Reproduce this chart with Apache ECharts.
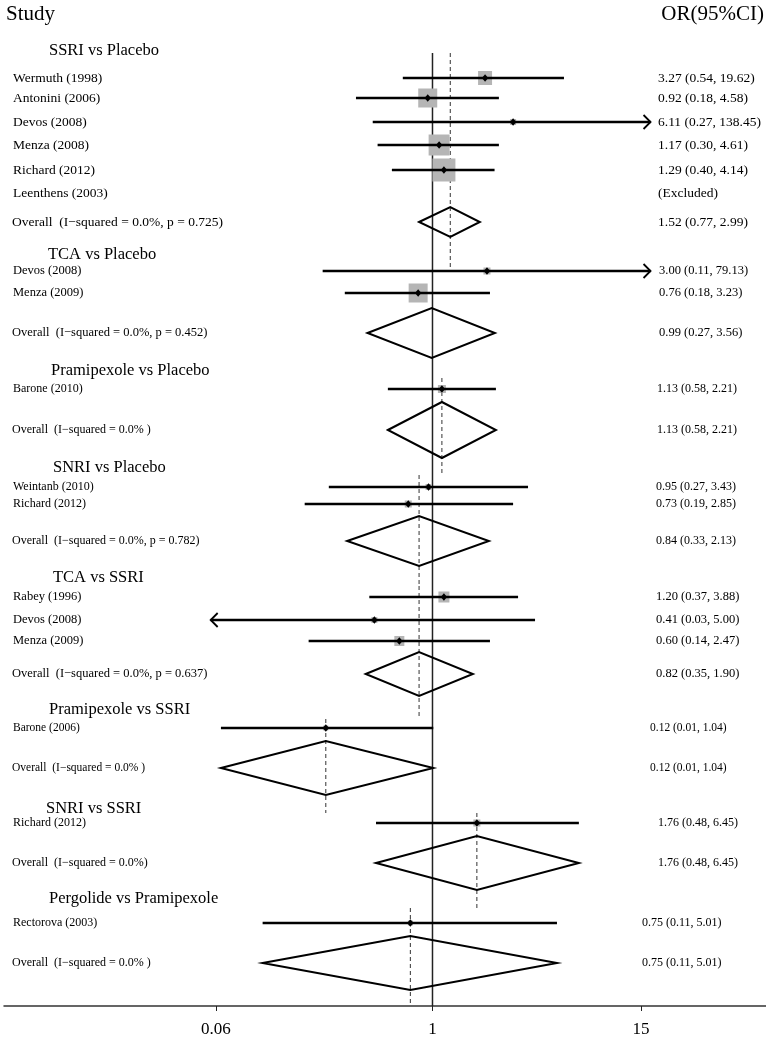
<!DOCTYPE html>
<html>
<head>
<meta charset="utf-8">
<title>Forest plot</title>
<script src="https://cdn.jsdelivr.net/npm/echarts@6/dist/echarts.min.js"></script>
<style>
html, body { margin: 0; padding: 0; background: #fff; }
#main { width: 766px; height: 1037px; }
</style>
</head>
<body>
<div id="main"></div>
<script>
// ---- data ----
var groupTitles = ['SSRI vs Placebo', 'TCA vs Placebo', 'Pramipexole vs Placebo', 'SNRI vs Placebo',
	'TCA vs SSRI', 'Pramipexole vs SSRI', 'SNRI vs SSRI', 'Pergolide vs Pramipexole'];

var studyGroup = [0, 0, 0, 0, 0, 0, 1, 1, 2, 3, 3, 4, 4, 4, 5, 6, 7];
var studyNames = ['Wermuth (1998)', 'Antonini (2006)', 'Devos (2008)', 'Menza (2008)', 'Richard (2012)', 'Leenthens (2003)',
	'Devos (2008)', 'Menza (2009)',
	'Barone (2010)',
	'Weintanb (2010)', 'Richard (2012)',
	'Rabey (1996)', 'Devos (2008)', 'Menza (2009)',
	'Barone (2006)',
	'Richard (2012)',
	'Rectorova (2003)'];
// positions of the marks as drawn on the axis
var studyOR = [1.98, 0.94, 2.85, 1.09, 1.16, null, 2.03, 0.83, 1.13, 0.95, 0.73, 1.16, 0.47, 0.65, 0.25, 1.78, 0.75];
var studyLo = [0.68, 0.37, 0.46, 0.49, 0.59, null, 0.24, 0.32, 0.56, 0.26, 0.19, 0.44, 0.03, 0.20, 0.064, 0.48, 0.11];
var studyHi = [5.52, 2.37, 138.45, 2.37, 2.24, null, 79.13, 2.11, 2.28, 3.46, 2.85, 3.04, 3.79, 2.11, 1.01, 6.70, 5.04];
var studyWeight = [14, 19, 6, 21, 23, 0, 7, 19, 8, 6, 7, 11, 6, 10, 5, 7, 5];
var studyText = ['3.27 (0.54, 19.62)', '0.92 (0.18, 4.58)', '6.11 (0.27, 138.45)', '1.17 (0.30, 4.61)', '1.29 (0.40, 4.14)', '(Excluded)',
	'3.00 (0.11, 79.13)', '0.76 (0.18, 3.23)',
	'1.13 (0.58, 2.21)',
	'0.95 (0.27, 3.43)', '0.73 (0.19, 2.85)',
	'1.20 (0.37, 3.88)', '0.41 (0.03, 5.00)', '0.60 (0.14, 2.47)',
	'0.12 (0.01, 1.04)',
	'1.76 (0.48, 6.45)',
	'0.75 (0.11, 5.01)'];

var overallLabel = ['Overall  (I\u2212squared = 0.0%, p = 0.725)', 'Overall  (I\u2212squared = 0.0%, p = 0.452)',
	'Overall  (I\u2212squared = 0.0% )', 'Overall  (I\u2212squared = 0.0%, p = 0.782)',
	'Overall  (I\u2212squared = 0.0%, p = 0.637)', 'Overall  (I\u2212squared = 0.0% )',
	'Overall  (I\u2212squared = 0.0%)', 'Overall  (I\u2212squared = 0.0% )'];
var overallOR = [1.26, 0.99, 1.13, 0.84, 0.84, 0.25, 1.78, 0.75];
var overallLo = [0.84, 0.43, 0.56, 0.33, 0.42, 0.064, 0.48, 0.11];
var overallHi = [1.85, 2.25, 2.28, 2.08, 1.69, 1.01, 6.70, 5.04];
var overallText = ['1.52 (0.77, 2.99)', '0.99 (0.27, 3.56)', '1.13 (0.58, 2.21)', '0.84 (0.33, 2.13)',
	'0.82 (0.35, 1.90)', '0.12 (0.01, 1.04)', '1.76 (0.48, 6.45)', '0.75 (0.11, 5.01)'];

var tickValues = [0.06, 1, 15];
var clipRange = [0.056, 17.0];

// ---- layout (row heights in px from the top) ----
var titleY = [51, 255, 371, 468, 578, 710, 809, 899];
var titleX = [49, 48, 51, 53, 53, 49, 46, 49];
var studyY = [78, 98, 122, 145, 170, 193, 271, 293, 389, 487, 504, 597, 620, 641, 728, 823, 923];
var overallY = [222, 333, 430, 541, 674, 768, 863, 963];
var diamondHalf = [15, 25, 28, 25, 22, 27, 27, 27];
var labelSize = [13.5, 12.5, 12, 12, 12.5, 11.5, 12, 12];
var valueX = [658, 659, 657, 656, 656, 650, 658, 642];
var dashTop = [53, null, 378, 475, 586, 719, 813, 908];
var dashBottom = [267, null, 475, 586, 719, 813, 908, 1006];

var serif = '"Liberation Serif", "Times New Roman", serif';
function log10(v) { return Math.log(v) / Math.LN10; }

function textEl(str, x, y, size, align) {
	return {
		type: 'text', x: x, y: y,
		style: { text: str, fill: '#000', font: size + 'px ' + serif, align: align || 'left', verticalAlign: 'middle' }
	};
}

//参考线：实线 OR=1 与各组合并效应虚线
function renderRefs(params, api) {
	var kids = [];
	var a = api.coord([0, 53]), b = api.coord([0, 1006]);
	kids.push({ type: 'line', shape: { x1: a[0], y1: a[1], x2: b[0], y2: b[1] }, style: { stroke: '#222', lineWidth: 1.5 } });
	for (var g = 0; g < overallOR.length; g++) {
		if (dashTop[g] == null) continue;
		var t = api.coord([log10(overallOR[g]), dashTop[g]]);
		var d = api.coord([log10(overallOR[g]), dashBottom[g]]);
		kids.push({ type: 'line', shape: { x1: t[0], y1: t[1], x2: d[0], y2: d[1] },
			style: { stroke: '#333', lineWidth: 1, lineDash: [4, 3] } });
	}
	// header and subgroup titles
	kids.push(textEl('Study', 6, 14, 21));
	kids.push(textEl('OR(95%CI)', 764, 14, 21, 'right'));
	for (var k = 0; k < groupTitles.length; k++) {
		kids.push(textEl(groupTitles[k], titleX[k], api.coord([0, titleY[k]])[1], 16.5));
	}
	return { type: 'group', children: kids };
}

function renderStudy(params, api) {
	var i = params.dataIndex;
	var g = studyGroup[i];
	var yy = api.coord([0, studyY[i]])[1];
	var fs = labelSize[g];
	var kids = [textEl(studyNames[i], 13, yy, fs), textEl(studyText[i], valueX[g], yy, fs)];
	if (studyOR[i] != null) {
		var lo = Math.max(studyLo[i], clipRange[0]);
		var hi = Math.min(studyHi[i], clipRange[1]);
		var p = api.coord([log10(studyOR[i]), studyY[i]]);
		var pl = api.coord([log10(lo), studyY[i]]);
		var ph = api.coord([log10(hi), studyY[i]]);
		var s = studyWeight[i];
		kids.push({ type: 'rect', shape: { x: p[0] - s / 2, y: p[1] - s / 2, width: s, height: s }, style: { fill: '#b5b5b5' } });
		kids.push({ type: 'line', shape: { x1: pl[0], y1: p[1], x2: ph[0], y2: p[1] }, style: { stroke: '#000', lineWidth: 2.3 } });
		if (studyHi[i] > clipRange[1]) {
			kids.push({ type: 'polyline', shape: { points: [[ph[0] - 7, p[1] - 7], [ph[0], p[1]], [ph[0] - 7, p[1] + 7]] },
				style: { stroke: '#000', lineWidth: 1.8, fill: null } });
		}
		if (studyLo[i] < clipRange[0]) {
			kids.push({ type: 'polyline', shape: { points: [[pl[0] + 7, p[1] - 7], [pl[0], p[1]], [pl[0] + 7, p[1] + 7]] },
				style: { stroke: '#000', lineWidth: 1.8, fill: null } });
		}
		kids.push({ type: 'polygon', shape: { points: [[p[0] - 3.2, p[1]], [p[0], p[1] - 3.8], [p[0] + 3.2, p[1]], [p[0], p[1] + 3.8]] },
			style: { fill: '#000' } });
	}
	return { type: 'group', children: kids };
}

function renderOverall(params, api) {
	var g = params.dataIndex;
	var y = overallY[g];
	var c = api.coord([log10(overallOR[g]), y]);
	var l = api.coord([log10(overallLo[g]), y]);
	var r = api.coord([log10(overallHi[g]), y]);
	var h = diamondHalf[g];
	return {
		type: 'group',
		children: [
			textEl(overallLabel[g], 12, c[1], labelSize[g]),
			textEl(overallText[g], valueX[g], c[1], labelSize[g]),
			{ type: 'polygon', shape: { points: [[l[0], c[1]], [c[0], c[1] - h], [r[0], c[1]], [c[0], c[1] + h]] },
				style: { stroke: '#000', lineWidth: 2, fill: null } }
		]
	};
}

var chart = echarts.init(document.getElementById('main'));
chart.setOption({
	animation: false,
	backgroundColor: '#fff',
	grid: { left: 4, right: 0, top: 0, bottom: 31, outerBoundsMode: 'none' },
	xAxis: {
		type: 'value',
		min: -2.418,
		max: 1.882,
		splitLine: { show: false },
		axisLine: { onZero: false, lineStyle: { color: '#333', width: 1.5 } },
		axisTick: { length: 5, lineStyle: { color: '#222' }, customValues: tickValues.map(log10) },
		axisLabel: {
			customValues: tickValues.map(log10),
			margin: 15,
			color: '#000',
			fontSize: 17,
			fontFamily: serif,
			formatter: function (v) { return String(Number(Math.pow(10, v).toPrecision(2))); }
		}
	},
	yAxis: { type: 'value', inverse: true, min: 0, max: 1006, show: false },
	series: [
		{ type: 'custom', renderItem: renderRefs, data: [[0, 0]], silent: true },
		{ type: 'custom', renderItem: renderStudy, silent: true,
			data: studyNames.map(function (n, i) { return [0, studyY[i]]; }) },
		{ type: 'custom', renderItem: renderOverall, silent: true,
			data: overallOR.map(function (v, i) { return [log10(v), overallY[i]]; }) }
	]
});
</script>
</body>
</html>
